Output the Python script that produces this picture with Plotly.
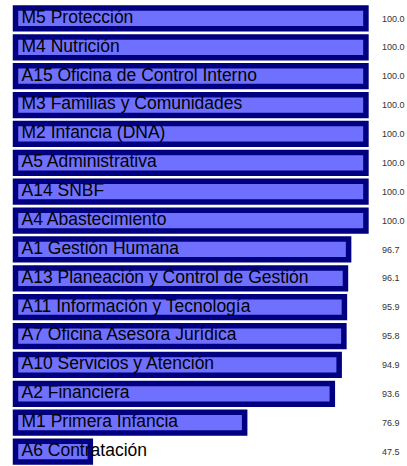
import plotly.graph_objects as go

categories = [
    "M5 Protección", "M4 Nutrición", "A15 Oficina de Control Interno",
    "M3 Familias y Comunidades", "M2 Infancia (DNA)", "A5 Administrativa",
    "A14 SNBF", "A4 Abastecimiento", "A1 Gestión Humana",
    "A13 Planeación y Control de Gestión", "A11 Información y Tecnología",
    "A7 Oficina Asesora Jurídica", "A10 Servicios y Atención",
    "A2 Financiera", "M1 Primera Infancia", "A6 Contratación",
]
values = [100.0, 100.0, 100.0, 100.0, 100.0, 100.0, 100.0, 100.0,
          96.7, 96.1, 95.9, 95.8, 94.9, 93.6, 76.9, 47.5]
value_labels = [f"{v:.1f}" for v in values]

BASE = 33.25          # axis floor of the bars
X_MIN, X_MAX = 32.2, 102.3

fig = go.Figure()
fig.add_trace(go.Bar(
    y=categories,
    x=[v - BASE for v in values],
    base=BASE,
    orientation="h",
    marker=dict(color="#7070ff", line=dict(color="#000080", width=5.5)),
    hoverinfo="skip",
    showlegend=False,
))
fig.add_trace(go.Scatter(
    y=categories,
    x=[BASE] * len(categories),
    mode="markers+text",
    marker=dict(size=8, color="rgba(0,0,0,0)"),
    text=categories,
    textposition="middle right",
    textfont=dict(family="Liberation Sans, Arial, sans-serif", size=17.5, color="#000000"),
    hoverinfo="skip",
    showlegend=False,
    cliponaxis=False,
))

fig.update_layout(
    width=407, height=466,
    margin=dict(l=10, r=29, t=4, b=0),
    paper_bgcolor="white", plot_bgcolor="white",
    bargap=0.28,
    xaxis=dict(range=[X_MIN, X_MAX], visible=False, showgrid=False, zeroline=False),
    yaxis=dict(
        range=[len(categories) - 0.5, -0.5], side="right",
        tickmode="array", tickvals=categories, ticktext=value_labels,
        showgrid=False, zeroline=False, showline=False, ticks="",
        ticklabelstandoff=3,
        tickfont=dict(family="Liberation Sans, Arial, sans-serif", size=9, color="#333333"),
    ),
)

fig.write_html("out.html", config={"displayModeBar": False},
               post_script="document.body.style.margin='0';")
